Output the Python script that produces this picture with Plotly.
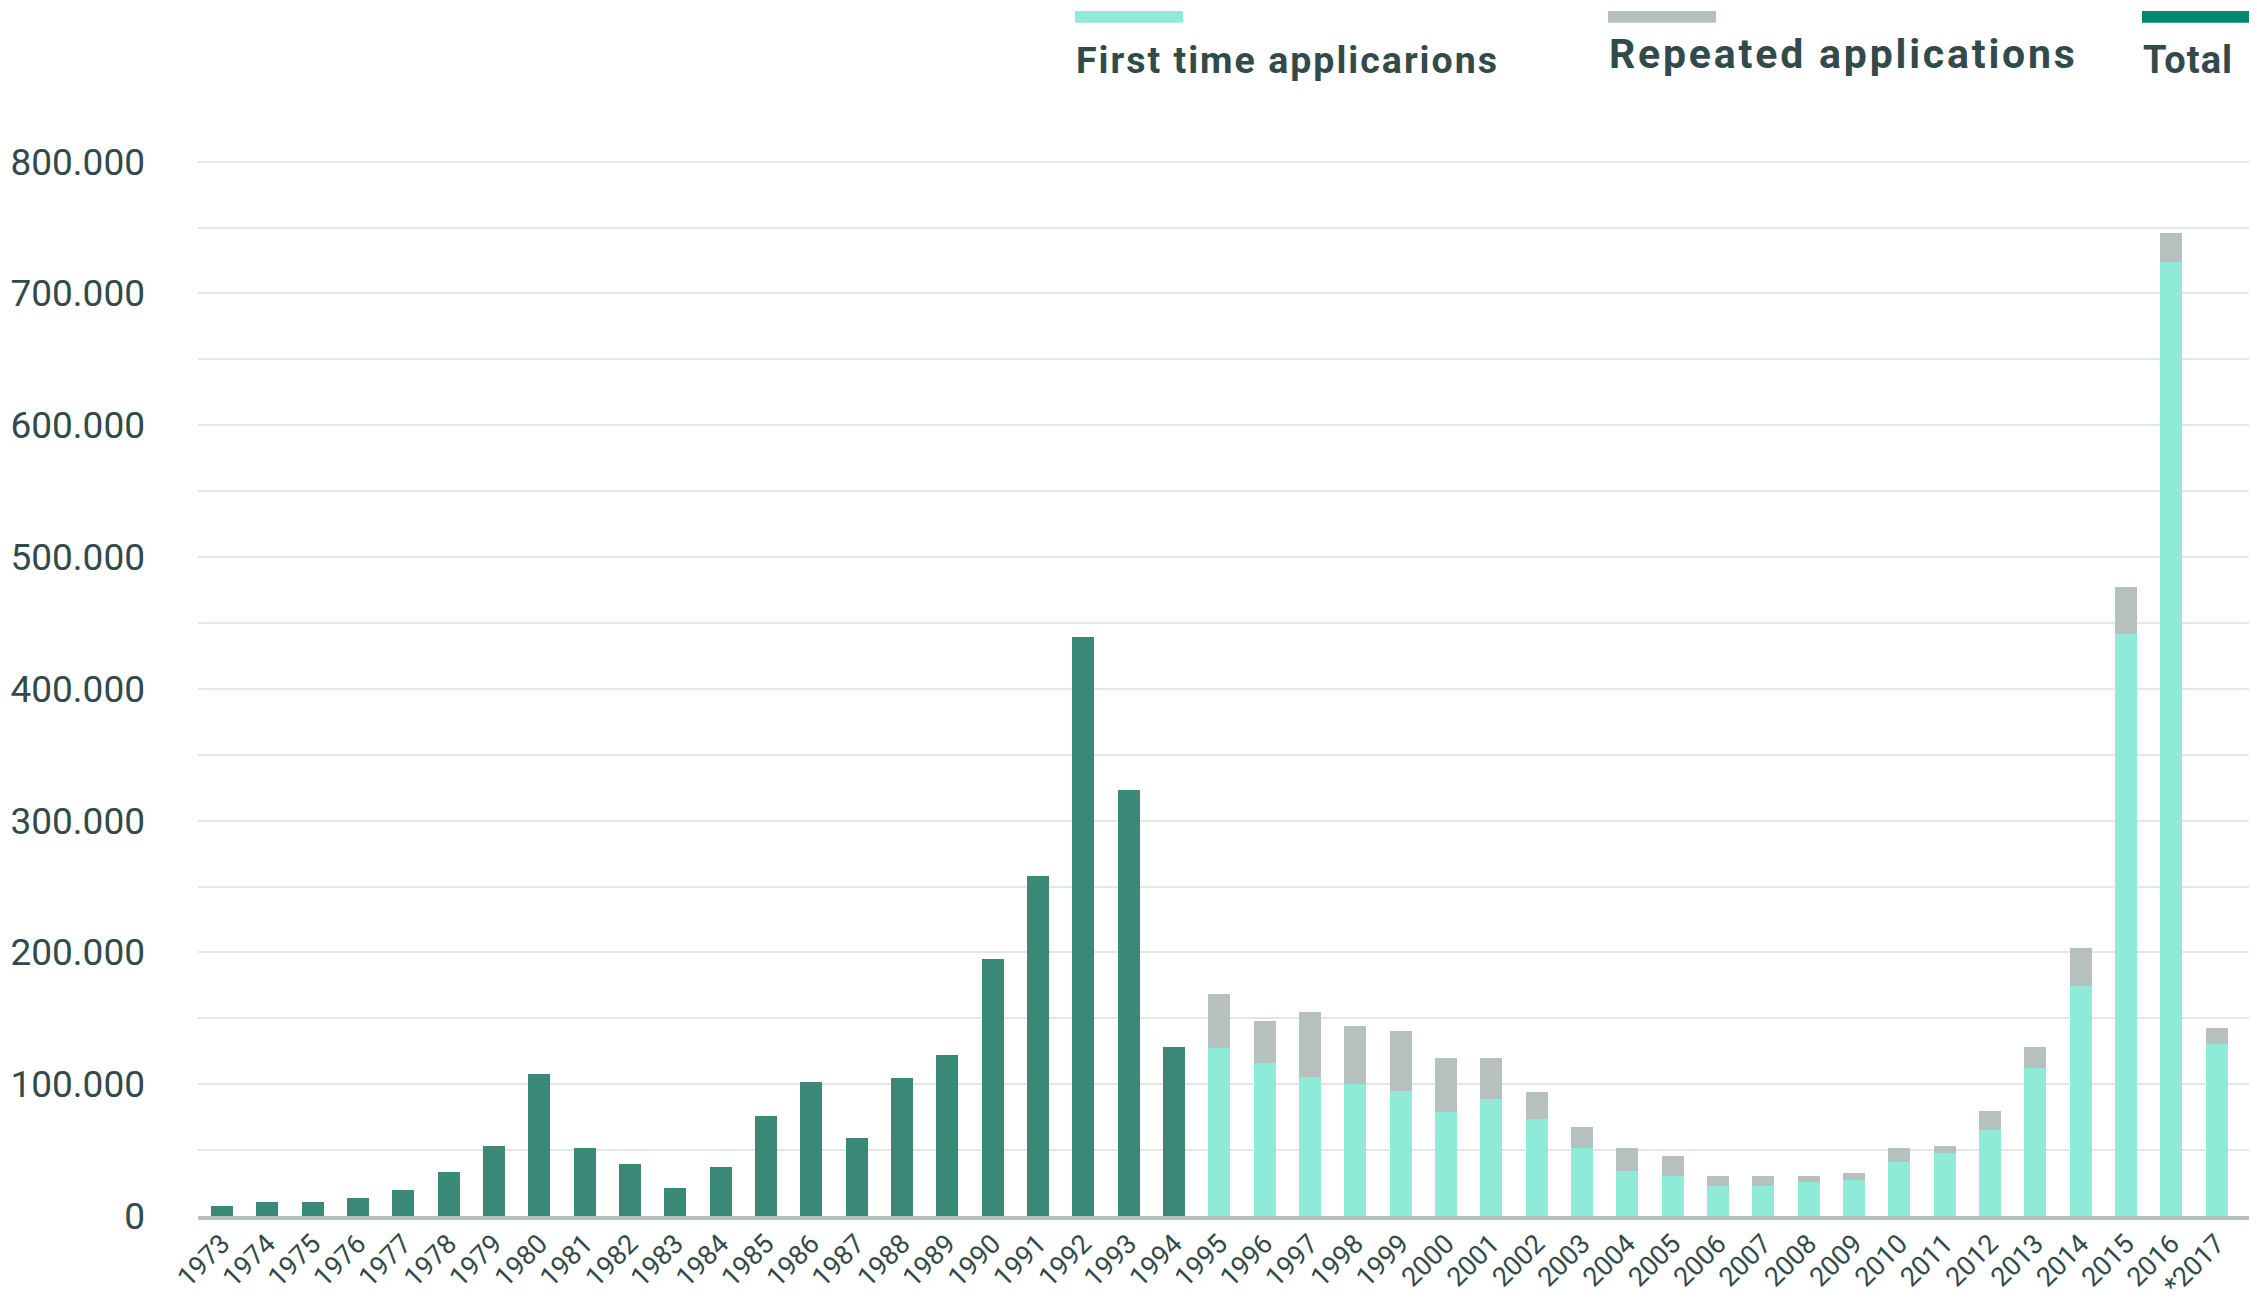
import plotly.graph_objects as go

# ---------------- data ----------------
years = [str(y) for y in range(1973, 2017)] + ["*2017"]

total_years = [str(y) for y in range(1973, 1995)]
total_values = [7500, 11000, 11000, 14000, 19500, 33500, 53000, 108000, 51500, 39500,
                21500, 37500, 76000, 102000, 59500, 104500, 122500, 195000, 258000,
                439000, 323000, 128500]

split_years = [str(y) for y in range(1995, 2017)] + ["*2017"]
first_values = [127500, 116000, 105500, 100000, 95000, 79000, 88500, 73500, 51500,
                34000, 30500, 23000, 23000, 25500, 27000, 41000, 47500, 65000,
                112000, 174500, 441500, 724000, 130500]
all_values = [168500, 148000, 155000, 144000, 140500, 120000, 120000, 94000, 67500,
              51500, 45500, 30500, 30500, 30500, 33000, 51500, 53000, 79500,
              128500, 203000, 477000, 746000, 142500]
repeated_values = [a - f for a, f in zip(all_values, first_values)]

legend_labels = ["First time applicarions", "Repeated applications", "Total"]

# ---------------- style ----------------
OFF = 8                      # page body margin
W, H = 2257 - OFF, 1305 - OFF
L, R, T, B = 198 - OFF, 8, 151, 89
YMAX = 802000
TEXT = "#334a4a"
DARK = "#3a8876"
LIGHT = "#8eebd8"
GRAY = "#b5c0bf"
TOTAL_SWATCH = "#00876f"
GRID = "#e3e8e7"

pw = W - L - R
ph = H - T - B


def px(x):  # absolute window pixel -> paper
    return (x - OFF - L) / pw


def py(y):
    return (H - B - (y - OFF)) / ph


fig = go.Figure()
fig.add_trace(go.Bar(x=total_years, y=total_values, marker_color=DARK,
                     marker_line_width=0, name=legend_labels[2], showlegend=False))
fig.add_trace(go.Bar(x=split_years, y=first_values, marker_color=LIGHT,
                     marker_line_width=0, name=legend_labels[0], showlegend=False))
fig.add_trace(go.Bar(x=split_years, y=repeated_values, marker_color=GRAY,
                     marker_line_width=0, name=legend_labels[1], showlegend=False))

# custom legend: swatch bar above bold label
legend_items = [
    (legend_labels[0], LIGHT, 1075, 1183, 60, 37.5, 2.0),
    (legend_labels[1], GRAY, 1608, 1716, 54, 41, 2.8),
    (legend_labels[2], TOTAL_SWATCH, 2142, 2249, 59.5, 38, 1.0),
]
shapes = []
annotations = []
for label, col, x0, x1, ymid, size, ls in legend_items:
    shapes.append(dict(type="rect", xref="paper", yref="paper",
                       x0=px(x0), x1=px(x1), y0=py(22.7), y1=py(11),
                       fillcolor=col, line_width=0, layer="above"))
    annotations.append(dict(text='<span style="letter-spacing:%.1fpx"><b>%s</b></span>' % (ls, label),
                            xref="paper", yref="paper",
                            x=px(x0 - 1), y=py(ymid), xanchor="left", yanchor="middle",
                            showarrow=False,
                            font=dict(family="Roboto", size=size, color=TEXT)))

fig.update_layout(
    width=W, height=H,
    margin=dict(l=L, r=R, t=T, b=B, pad=0, autoexpand=False),
    paper_bgcolor="white", plot_bgcolor="white",
    barmode="stack", bargap=0.515,
    separators=",.",
    font=dict(family="Roboto", color=TEXT),
    shapes=shapes, annotations=annotations,
    showlegend=False,
)
fig.update_xaxes(
    type="category", categoryorder="array", categoryarray=years,
    range=[-0.53, 44.71], automargin=False,
    tickangle=-45, tickfont=dict(family="Roboto", size=27, color=TEXT),
    ticks="", ticklabelstandoff=-3, showgrid=False, zeroline=False,
    showline=True, linecolor=GRAY, linewidth=4, layer="above traces",
)
fig.update_yaxes(
    range=[0, YMAX], dtick=100000, tick0=0, tickformat=",d", automargin=False,
    tickfont=dict(family="Roboto", size=37, color=TEXT),
    ticks="", ticklabelstandoff=52,
    showgrid=True, gridcolor=GRID, gridwidth=2,
    minor=dict(dtick=50000, showgrid=True, gridcolor=GRID, gridwidth=2),
    zeroline=False, showline=False,
)

fig.write_html("out.html")
